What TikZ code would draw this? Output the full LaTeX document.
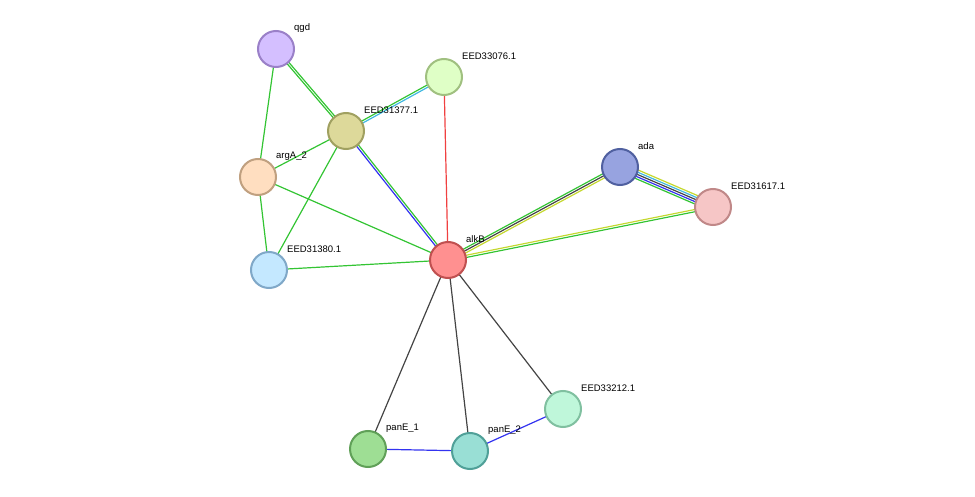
\documentclass[tikz,border=0pt]{standalone}
\usepackage{fontspec}
\setmainfont{Liberation Sans}
\usetikzlibrary{calc}
\pgfdeclarelayer{bg}\pgfsetlayers{bg,main}
\definecolor{eg}{HTML}{33C433}\definecolor{eb}{HTML}{3333F0}\definecolor{ek}{HTML}{444444}
\definecolor{ec}{HTML}{40B8E0}\definecolor{ey}{HTML}{C4D82E}\definecolor{er}{HTML}{F04040}
\tikzset{prot/.style={circle,minimum size=36pt,inner sep=0pt,line width=2pt},
 lab/.style={anchor=west,font=\fontsize{9.5pt}{11pt}\selectfont,text=black,inner sep=0pt},
 ed/.style={line width=1.2pt}}
\newcommand\medge[4]{% a, b, n, colours
 \foreach \cc [count=\ii] in {#4}{
  \pgfmathsetmacro\off{(\ii-(#3+1)/2)*2.2}
  \draw[ed,\cc] ($(#1)!\off pt!90:(#2)$) -- ($(#2)!\off pt!-90:(#1)$);}}
\begin{document}
\begin{tikzpicture}[x=1pt,y=-1pt]
\useasboundingbox (0,0) rectangle (975,497);
\foreach \n/\x/\y/\f/\s/\t in {
 qgd/276/49/D4BFFF/9A80C8/qgd,
 e76/444/77/DFFFC6/A0C080/EED33076.1,
 e77/346/131/DDD99A/A0A060/EED31377.1,
 arg/258/177/FFDEC0/C0A080/argA\_2,
 e80/269/270/C4E8FF/80A8C8/EED31380.1,
 alkB/448/260/FF9090/C05050/alkB,
 ada/620/167/97A3E0/5060A0/ada,
 e17/713/207/F6C6C6/C08888/EED31617.1,
 e12/563/409/BFF7DA/80C0A0/EED33212.1,
 p1/368/449/9EDE94/60A058/panE\_1,
 p2/470/451/99DFD5/50A098/panE\_2}{
 \definecolor{fc}{HTML}{\f}\definecolor{sc}{HTML}{\s}
 \node[prot,fill=fc,draw=sc] (\n) at (\x,\y) {};
 \node[lab] (\n l) at (\x+18,\y-21) {\t};}
\begin{pgfonlayer}{bg}
\medge{qgd}{e77}{2}{eg,eg}
\medge{qgd}{arg}{1}{eg}
\medge{e76}{e77}{2}{eg,ec}
\medge{e76}{alkB}{1}{er}
\medge{e77}{arg}{1}{eg}
\medge{e77}{e80}{1}{eg}
\medge{e77}{alkB}{2}{eb,eg}
\medge{arg}{e80}{1}{eg}
\medge{arg}{alkB}{1}{eg}
\medge{e80}{alkB}{1}{eg}
\medge{alkB}{ada}{3}{ey,ek,eg}
\medge{alkB}{e17}{2}{eg,ey}
\medge{ada}{e17}{5}{eg,eb,ek,ec,ey}
\medge{alkB}{p1}{1}{ek}
\medge{alkB}{p2}{1}{ek}
\medge{alkB}{e12}{1}{ek}
\medge{p1}{p2}{1}{eb}
\medge{p2}{e12}{1}{eb}
\end{pgfonlayer}
\end{tikzpicture}
\end{document}
